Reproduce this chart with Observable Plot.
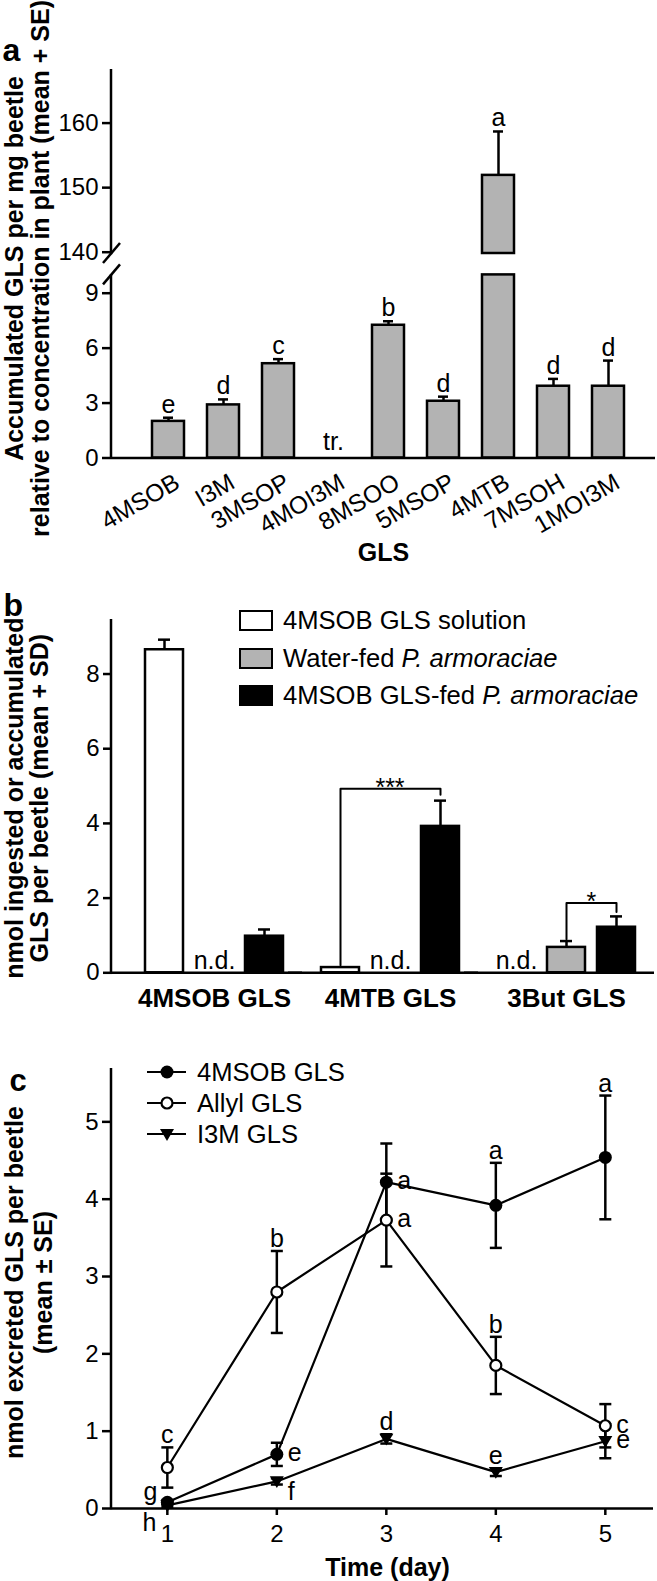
<!DOCTYPE html>
<html>
<head>
<meta charset="utf-8">
<script src="https://cdn.jsdelivr.net/npm/d3@7"></script>
<script src="https://cdn.jsdelivr.net/npm/@observablehq/plot@0.6"></script>
<style>
  body { margin: 0; background: #fff; }
  #fig { position: relative; width: 657px; height: 1581px; overflow: hidden; background: #fff;
         font-family: "Liberation Sans", Arial, Helvetica, sans-serif; color: #000; }
  #fig > svg.panel { position: absolute; left: 0; }
  .legtxt { position: absolute; font-size: 25.6px; line-height: 28px; white-space: nowrap; }
  .legsq { position: absolute; box-sizing: border-box; border: 2.5px solid #000; width: 34px; height: 21px; }
  .legsym { position: absolute; }
</style>
</head>
<body>
<div id="fig"></div>
<script>
// ---------------- Panel a data ----------------
const glsNames   = ["4MSOB", "I3M", "3MSOP", "4MOI3M", "8MSOO", "5MSOP", "4MTB", "7MSOH", "1MOI3M"];
const accMean    = [2.0, 2.9, 5.15, null, 7.25, 3.1, 151.9, 3.92, 3.92];
const accSE      = [0.2, 0.3, 0.25, null, 0.22, 0.25, 6.8, 0.4, 1.4];
const accLetters = ["e", "d", "c", "tr.", "b", "d", "a", "d", "d"];
const accLowerDomain = [0, 10];
const accUpperDomain = [139.8, 168.3];
const accLowerTicks = [0, 3, 6, 9];
const accUpperTicks = [140, 150, 160];
const titleA = ["Accumulated GLS per mg beetle", "relative to concentration in plant (mean + SE)"];
const xTitleA = "GLS";

// ---------------- Panel b data ----------------
const ingGroups = ["4MSOB GLS", "4MTB GLS", "3But GLS"];
const ingSeries = ["4MSOB GLS solution", "Water-fed P. armoraciae", "4MSOB GLS-fed P. armoraciae"];
const ingSolutionMean = [8.65, 0.14, null];
const ingSolutionSD   = [0.27, 0, null];
const ingWaterMean    = [null, null, 0.68];
const ingWaterSD      = [null, null, 0.17];
const ingFedMean      = [0.98, 3.92, 1.22];
const ingFedSD        = [0.18, 0.69, 0.29];
const ingTicks = [0, 2, 4, 6, 8];
const ingYDomain = [0, 9.46];
const sigGroups  = ["4MTB GLS", "3But GLS"];
const sigFrom    = ["4MSOB GLS solution", "Water-fed P. armoraciae"];
const sigTo      = ["4MSOB GLS-fed P. armoraciae", "4MSOB GLS-fed P. armoraciae"];
const sigLevel   = [4.93, 1.87];
const sigFromEnd = [0.2, 0.9];
const sigToEnd   = [4.77, 1.63];
const sigLabel   = ["***", "*"];
const ndLabel = "n.d.";
const titleB = ["nmol ingested or accumulated", "GLS per beetle (mean + SD)"];

// ---------------- Panel c data ----------------
const days = [1, 2, 3, 4, 5];
const excSeries = ["4MSOB GLS", "Allyl GLS", "I3M GLS"];
const msobMean  = [0.08, 0.70, 4.22, 3.92, 4.54];
const msobSE    = [0.03, 0.15, 0.50, 0.55, 0.80];
const allylMean = [0.53, 2.80, 3.73, 1.85, 1.07];
const allylSE   = [0.26, 0.53, 0.60, 0.37, 0.28];
const i3mMean   = [0.04, 0.35, 0.90, 0.47, 0.87];
const i3mSE     = [0.02, 0.04, 0.06, 0.05, 0.22];
const msobLetters  = ["g", "e", "a", "a", "a"];
const allylLetters = ["c", "b", "a", "b", "c"];
const i3mLetters   = ["h", "f", "d", "e", "e"];
const excYTicks = [0, 1, 2, 3, 4, 5];
const excYDomain = [0, 5.69];
const excXDomain = [0.49, 5.44];
const titleC = ["nmol excreted GLS per beetle", "(mean \u00b1 SE)"];
const xTitleC = "Time (day)";

// ---------------- layout / style ----------------
const FONT = "'Liberation Sans', Arial, Helvetica, sans-serif";
const W = 657, ML = 111;
const GRAY = "#b3b3b3";
const SW = 2.5;
const fig = document.getElementById("fig");
const baseStyle = {background: "transparent", overflow: "visible", fontFamily: FONT, fontSize: "24px", color: "black"};
const intFmt = d => String(d);

function mount(svg, top) {
  svg.classList.add("panel");
  svg.style.top = top + "px";
  fig.appendChild(svg);
  return svg;
}
function yAxisLine(svg, x = ML) {
  const [y0, y1] = svg.scale("y").range;
  d3.select(svg).append("line")
    .attr("x1", x).attr("x2", x).attr("y1", y0 + SW / 2).attr("y2", y1)
    .attr("stroke", "black").attr("stroke-width", SW);
}
function breakSlash(svg, y) {
  d3.select(svg).append("line")
    .attr("x1", ML - 8).attr("y1", y + 10).attr("x2", ML + 9).attr("y2", y - 10)
    .attr("stroke", "black").attr("stroke-width", SW);
}

// ================= Panel a =================
const rowsA = glsNames.map((name, i) => ({name, mean: accMean[i], se: accSE[i], letter: accLetters[i]}));
const measured = rowsA.filter(d => d.mean != null);
const lowMax = accLowerDomain[1], upMin = accUpperDomain[0];
const xA = {domain: glsNames, paddingInner: 0.41, paddingOuter: 0.205, insetLeft: 27.8, insetRight: 17.6, axis: null};

const aLower = Plot.plot({
  width: W, height: 580, marginLeft: ML, marginRight: 2, marginTop: 274.4, marginBottom: 122.5,
  style: baseStyle,
  x: xA,
  y: {domain: accLowerDomain, axis: null},
  marks: [
    Plot.barY(measured, {x: "name", y1: 0, y2: d => Math.min(d.mean, lowMax), fill: GRAY, stroke: "black", strokeWidth: SW}),
    Plot.ruleX(measured.filter(d => d.mean < lowMax), {x: "name", y1: "mean", y2: d => d.mean + d.se, stroke: "black", strokeWidth: SW}),
    Plot.tickY(measured.filter(d => d.mean < lowMax), {x: "name", y: d => d.mean + d.se, stroke: "black", strokeWidth: SW, insetLeft: 11, insetRight: 11}),
    Plot.text(measured.filter(d => d.mean < lowMax), {x: "name", y: d => d.mean + d.se, text: "letter", dy: -5, lineAnchor: "bottom", fontSize: 25}),
    Plot.text(rowsA.filter(d => d.mean == null), {x: "name", y: 0, text: "letter", dy: -8, lineAnchor: "bottom", fontSize: 25}),
    Plot.ruleY([0], {stroke: "black", strokeWidth: SW}),
    Plot.axisY({ticks: accLowerTicks, tickSize: 9, tickPadding: 4, strokeWidth: SW, label: null, fontSize: 24, tickFormat: intFmt}),
    Plot.text(glsNames, {x: d => d, frameAnchor: "bottom", rotate: -30, textAnchor: "end", lineAnchor: "bottom", dx: 13, dy: 29, fontSize: 24.5}),
    Plot.text([xTitleA], {frameAnchor: "bottom", dy: 103, lineAnchor: "bottom", fontWeight: "bold", fontSize: 25}),
    Plot.text([titleA.join("\n")], {frameAnchor: "left", rotate: -90, textAnchor: "middle", lineAnchor: "middle", dx: 27 - ML, dy: -98, fontWeight: "bold", fontSize: 25, lineHeight: 1.05}),
    Plot.text(["a"], {frameAnchor: "top-left", textAnchor: "start", lineAnchor: "bottom", dx: 2 - ML, dy: 60 - 274.4, fontWeight: "bold", fontSize: 32})
  ]
});
mount(aLower, 0);
yAxisLine(aLower);
breakSlash(aLower, aLower.scale("y").range[1]);

const upperRows = measured.filter(d => d.mean > upMin);
const aUpper = Plot.plot({
  width: W, height: 262, marginLeft: ML, marginRight: 2, marginTop: 69, marginBottom: 9,
  style: baseStyle,
  x: xA,
  y: {domain: accUpperDomain, axis: null},
  marks: [
    Plot.barY(upperRows, {x: "name", y1: upMin, y2: "mean", fill: GRAY, stroke: "black", strokeWidth: SW}),
    Plot.ruleX(upperRows, {x: "name", y1: "mean", y2: d => d.mean + d.se, stroke: "black", strokeWidth: SW}),
    Plot.tickY(upperRows, {x: "name", y: d => d.mean + d.se, stroke: "black", strokeWidth: SW, insetLeft: 11, insetRight: 11}),
    Plot.text(upperRows, {x: "name", y: d => d.mean + d.se, text: "letter", dy: -5, lineAnchor: "bottom", fontSize: 25}),
    Plot.axisY({ticks: accUpperTicks, tickSize: 9, tickPadding: 4, strokeWidth: SW, label: null, fontSize: 24, tickFormat: intFmt})
  ]
});
mount(aUpper, 0);
yAxisLine(aUpper);
breakSlash(aUpper, aUpper.scale("y").range[0]);

// ================= Panel b =================
const ingMeans = [ingSolutionMean, ingWaterMean, ingFedMean];
const ingSDs = [ingSolutionSD, ingWaterSD, ingFedSD];
const rowsB = ingGroups.flatMap((g, gi) => ingSeries.map((s, si) => ({group: g, series: s, mean: ingMeans[si][gi], sd: ingSDs[si][gi]})));
const barsB = rowsB.filter(d => d.mean != null);
const errB = barsB.filter(d => d.sd > 0);
const ndB = rowsB.filter(d => d.mean == null);
const sigRows = sigGroups.map((g, i) => ({id: i, group: g, from: sigFrom[i], to: sigTo[i], level: sigLevel[i], a: sigFromEnd[i], b: sigToEnd[i], label: sigLabel[i]}));
const bracketPts = sigRows.flatMap(d => [
  {id: d.id, group: d.group, s: d.from, y: d.a},
  {id: d.id, group: d.group, s: d.from, y: d.level},
  {id: d.id, group: d.group, s: d.to, y: d.level},
  {id: d.id, group: d.group, s: d.to, y: d.b}
]);
const FACET_W = 176.75, STEP_B = FACET_W / 3.5;

const bPlot = Plot.plot({
  width: W, height: 450, marginLeft: ML, marginRight: 2, marginTop: 39, marginBottom: 57.7,
  style: baseStyle,
  fx: {domain: ingGroups, range: [ML, ML + 3 * FACET_W], padding: 0, axis: null},
  x: {domain: ingSeries, paddingInner: 0.25, paddingOuter: 0.375, align: 0.86, axis: null},
  y: {domain: ingYDomain, axis: null},
  color: {domain: ingSeries, range: ["white", GRAY, "black"]},
  marks: [
    Plot.ruleX(errB, {fx: "group", x: "series", y1: "mean", y2: d => d.mean + d.sd, stroke: "black", strokeWidth: SW}),
    Plot.tickY(errB, {fx: "group", x: "series", y: d => d.mean + d.sd, stroke: "black", strokeWidth: SW, insetLeft: 13, insetRight: 13}),
    Plot.barY(barsB, {fx: "group", x: "series", y1: 0, y2: "mean", fill: "series", stroke: "black", strokeWidth: SW}),
    Plot.text(ndB, {fx: "group", x: "series", y: 0, text: () => ndLabel, dy: -4, lineAnchor: "bottom", fontSize: 25}),
    Plot.line(bracketPts, {fx: "group", x: "s", y: "y", z: "id", stroke: "black", strokeWidth: 2}),
    ...sigRows.map(d => Plot.text([d], {
      fx: "group", x: "to", y: "level", text: "label", lineAnchor: "bottom", fontSize: 25,
      dx: -(ingSeries.indexOf(d.to) - ingSeries.indexOf(d.from)) * STEP_B / 2, dy: 7
    })),
    Plot.ruleY([0], {stroke: "black", strokeWidth: SW, insetRight: -14}),
    Plot.axisY({ticks: ingTicks, tickSize: 9, tickPadding: 4, strokeWidth: SW, label: null, fontSize: 24, tickFormat: intFmt}),
    Plot.text(ingGroups, {fx: d => d, x: () => ingSeries[1], frameAnchor: "bottom", dy: 34, lineAnchor: "bottom", fontWeight: "bold", fontSize: 26}),
    Plot.text([titleB.join("\n")], {fx: () => ingGroups[0], frameAnchor: "left", rotate: -90, textAnchor: "middle", lineAnchor: "middle", dx: 26 - ML, dy: 2, fontWeight: "bold", fontSize: 25, lineHeight: 1.0}),
    Plot.text(["b"], {fx: () => ingGroups[0], frameAnchor: "top-left", textAnchor: "start", lineAnchor: "bottom", dx: 2 - ML, dy: 35 - 39, fontWeight: "bold", fontSize: 32})
  ]
});
mount(bPlot, 580);
yAxisLine(bPlot);

// legend b (HTML)
const legB = [620, 658, 695];
const ingFill = {[ingSeries[0]]: "white", [ingSeries[1]]: GRAY, [ingSeries[2]]: "black"};
ingSeries.forEach((s, i) => {
  const sq = document.createElement("div");
  sq.className = "legsq";
  sq.style.left = "239px"; sq.style.top = (legB[i] - 10.5) + "px";
  sq.style.background = ingFill[s];
  fig.appendChild(sq);
  const t = document.createElement("div");
  t.className = "legtxt";
  t.style.left = "283px"; t.style.top = (legB[i] - 14) + "px";
  t.innerHTML = s.replace("P. armoraciae", "<i>P. armoraciae</i>");
  fig.appendChild(t);
});

// ================= Panel c =================
const excMeans = [msobMean, allylMean, i3mMean];
const excSEs = [msobSE, allylSE, i3mSE];
const excLetters = [msobLetters, allylLetters, i3mLetters];
const placeC = [
  ["left", "right", "right", "above", "above"],
  ["above", "above", "right", "above", "right"],
  ["belowleft", "belowright", "above", "above", "right"]
];
const rowsC = excSeries.flatMap((s, si) => days.map((d, di) => ({
  series: s, day: d, mean: excMeans[si][di], se: excSEs[si][di], letter: excLetters[si][di], place: placeC[si][di]
})));
const capSym = {draw(ctx, size) { const r = Math.sqrt(size / Math.PI); ctx.moveTo(-r, 0); ctx.lineTo(r, 0); }};
const triDown = {draw(ctx, size) { const r = Math.sqrt(size / Math.PI); ctx.moveTo(-r, -0.75 * r); ctx.lineTo(r, -0.75 * r); ctx.lineTo(0, 0.95 * r); ctx.closePath(); }};
const bySeries = s => rowsC.filter(d => d.series === s);
const byPlace = p => rowsC.filter(d => d.place === p);

const cPlot = Plot.plot({
  width: W, height: 551, marginLeft: ML, marginRight: 4, marginTop: 38, marginBottom: 73,
  style: baseStyle,
  x: {domain: excXDomain, axis: null},
  y: {domain: excYDomain, axis: null},
  marks: [
    Plot.ruleY([0], {stroke: "black", strokeWidth: SW}),
    Plot.axisX({ticks: days, tickSize: 7, tickPadding: 9, strokeWidth: SW, label: null, fontSize: 24, tickFormat: intFmt}),
    Plot.axisY({ticks: excYTicks, tickSize: 9, tickPadding: 4, strokeWidth: SW, label: null, fontSize: 24, tickFormat: intFmt}),
    Plot.line(rowsC, {x: "day", y: "mean", z: "series", stroke: "black", strokeWidth: 2.2}),
    Plot.ruleX(rowsC, {x: "day", y1: d => d.mean - d.se, y2: d => d.mean + d.se, stroke: "black", strokeWidth: SW}),
    Plot.dot(rowsC, {x: "day", y: d => d.mean + d.se, symbol: capSym, r: 6, fill: "none", stroke: "black", strokeWidth: SW}),
    Plot.dot(rowsC, {x: "day", y: d => Math.max(0, d.mean - d.se), symbol: capSym, r: 6, fill: "none", stroke: "black", strokeWidth: SW}),
    Plot.dot(bySeries(excSeries[2]), {x: "day", y: "mean", symbol: triDown, r: 7, fill: "black", stroke: "none"}),
    Plot.dot(bySeries(excSeries[0]), {x: "day", y: "mean", r: 6.5, fill: "black", stroke: "none"}),
    Plot.dot(bySeries(excSeries[1]), {x: "day", y: "mean", r: 5.5, fill: "white", stroke: "black", strokeWidth: 2.2}),
    Plot.text(byPlace("above"), {x: "day", y: d => d.mean + d.se, text: "letter", dy: -4, lineAnchor: "bottom", fontSize: 25}),
    Plot.text(byPlace("right"), {x: "day", y: "mean", text: "letter", dx: 11, dy: -1, textAnchor: "start", fontSize: 25}),
    Plot.text(byPlace("left"), {x: "day", y: "mean", text: "letter", dx: -10, dy: -10, textAnchor: "end", fontSize: 25}),
    Plot.text(byPlace("belowleft"), {x: "day", y: "mean", text: "letter", dx: -11, dy: 18, textAnchor: "end", fontSize: 25}),
    Plot.text(byPlace("belowright"), {x: "day", y: "mean", text: "letter", dx: 11, dy: 11, textAnchor: "start", fontSize: 25}),
    Plot.text([xTitleC], {frameAnchor: "bottom", dx: 5, dy: 67, lineAnchor: "bottom", fontWeight: "bold", fontSize: 25}),
    Plot.text([titleC.join("\n")], {frameAnchor: "left", rotate: -90, textAnchor: "middle", lineAnchor: "middle", dx: 28 - ML, dy: -6, fontWeight: "bold", fontSize: 25, lineHeight: 1.15}),
    Plot.text(["c"], {frameAnchor: "top-left", textAnchor: "start", lineAnchor: "bottom", dx: 9 - ML, dy: 60 - 38, fontWeight: "bold", fontSize: 31})
  ]
});
mount(cPlot, 1030);
yAxisLine(cPlot);

// legend c (HTML + tiny svg symbols)
const legC = [1072, 1103, 1134];
excSeries.forEach((s, i) => {
  const sym = d3.create("svg").attr("class", "legsym").attr("width", 42).attr("height", 18)
    .style("left", "146px").style("top", (legC[i] - 9) + "px");
  sym.append("line").attr("x1", 1).attr("x2", 40).attr("y1", 9).attr("y2", 9).attr("stroke", "black").attr("stroke-width", 2.2);
  if (i === 0) sym.append("circle").attr("cx", 21).attr("cy", 9).attr("r", 6.5).attr("fill", "black");
  if (i === 1) sym.append("circle").attr("cx", 21).attr("cy", 9).attr("r", 5.5).attr("fill", "white").attr("stroke", "black").attr("stroke-width", 2.2);
  if (i === 2) sym.append("path").attr("d", "M14,4 L28,4 L21,16 Z").attr("fill", "black");
  fig.appendChild(sym.node());
  const t = document.createElement("div");
  t.className = "legtxt";
  t.style.left = "197px"; t.style.top = (legC[i] - 14) + "px";
  t.textContent = s;
  fig.appendChild(t);
});
</script>
</body>
</html>
